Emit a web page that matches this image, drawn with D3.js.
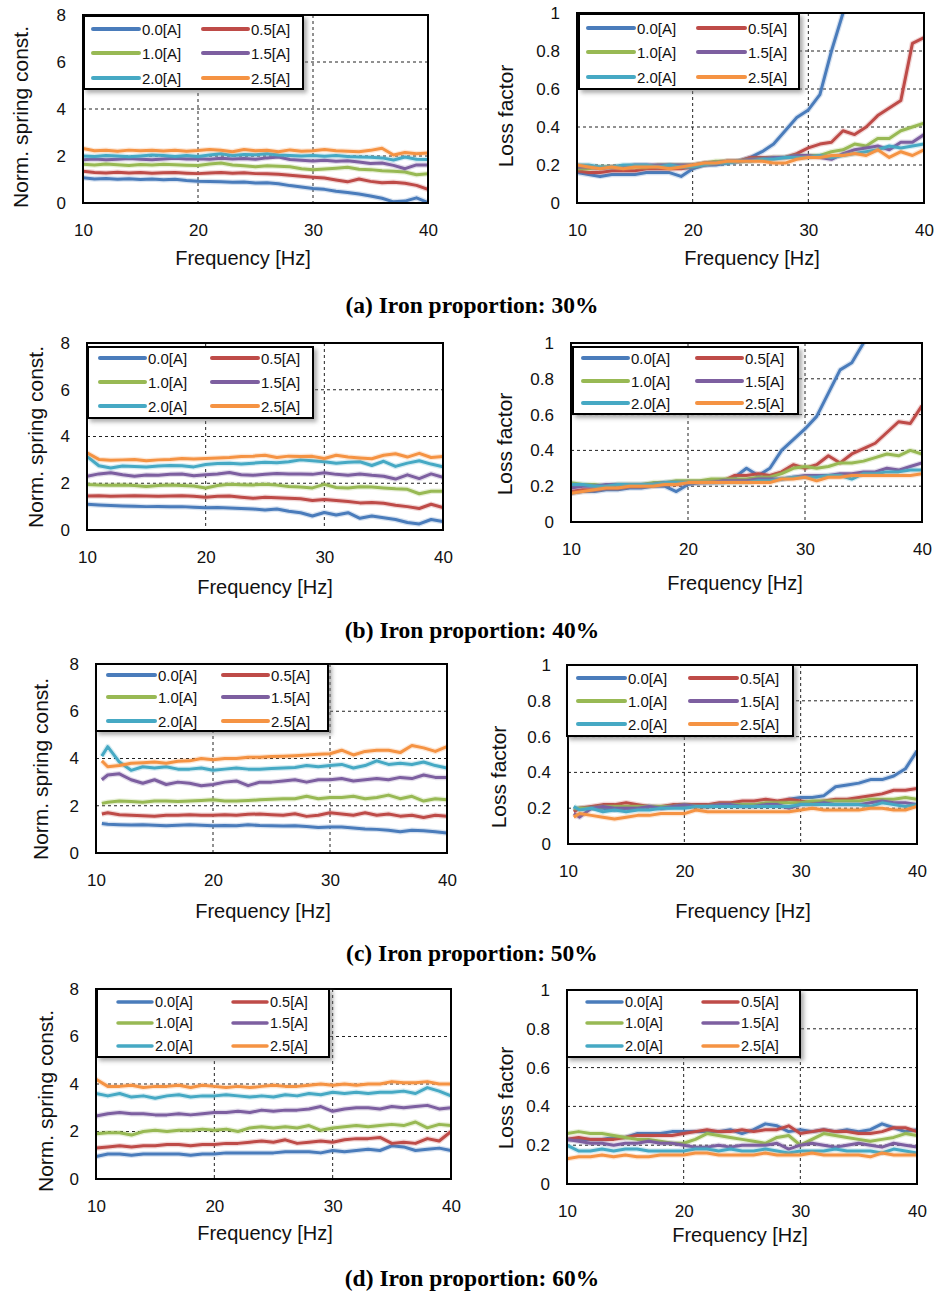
<!DOCTYPE html>
<html>
<head>
<meta charset="utf-8">
<script src="https://cdn.jsdelivr.net/npm/d3@7"></script>
<style>
body{margin:0;background:#fff;}
svg{display:block;font-family:"Liberation Sans",Arial,sans-serif;}
</style>
</head>
<body>
<svg id="chart"></svg>
<script>
// frequency axes (Hz)
const freq = [10,11,12,13,14,15,16,17,18,19,20,21,22,23,24,25,26,27,28,29,30,31,32,33,34,35,36,37,38,39,40];
const freqC = [10.5,11,12,13,14,15,16,17,18,19,20,21,22,23,24,25,26,27,28,29,30,31,32,33,34,35,36,37,38,39,40];
const currents = ["0.0[A]","0.5[A]","1.0[A]","1.5[A]","2.0[A]","2.5[A]"];
const freqTicks = [10,20,30,40];
const kTicks = [0,2,4,6,8];
const etaTicks = [0,0.2,0.4,0.6,0.8,1];
const captions = ["(a) Iron proportion: 30%","(b) Iron proportion: 40%","(c) Iron proportion: 50%","(d) Iron proportion: 60%"];

// normalised spring constant, one row per current 0.0 .. 2.5 A
const k30 = [
  [1.08,1.02,1.04,1.01,1.03,1.00,1.02,0.99,1.01,0.96,0.93,0.92,0.90,0.88,0.89,0.85,0.86,0.82,0.74,0.68,0.62,0.58,0.50,0.45,0.38,0.30,0.20,0.05,0.08,0.22,0.02],
  [1.35,1.30,1.28,1.31,1.28,1.30,1.27,1.29,1.30,1.27,1.25,1.28,1.30,1.27,1.29,1.25,1.24,1.22,1.18,1.14,1.10,1.06,0.98,0.90,1.02,0.92,0.86,0.88,0.84,0.75,0.58],
  [1.65,1.62,1.66,1.63,1.60,1.64,1.62,1.65,1.63,1.61,1.60,1.66,1.70,1.62,1.58,1.54,1.58,1.56,1.54,1.46,1.42,1.45,1.48,1.52,1.44,1.42,1.37,1.35,1.32,1.20,1.25],
  [1.84,1.87,1.84,1.86,1.89,1.86,1.84,1.87,1.90,1.87,1.88,1.86,1.90,1.87,1.89,1.86,1.92,1.96,1.85,1.82,1.79,1.82,1.78,1.80,1.74,1.68,1.70,1.60,1.46,1.62,1.62],
  [2.00,1.98,2.02,2.00,1.97,2.00,2.04,2.02,1.98,2.02,1.98,2.04,2.10,2.02,2.06,2.05,2.10,2.04,2.02,2.00,2.02,1.99,2.02,1.98,1.96,1.95,1.92,1.83,1.96,1.86,1.85],
  [2.32,2.22,2.24,2.20,2.25,2.22,2.24,2.21,2.24,2.20,2.23,2.28,2.24,2.18,2.28,2.22,2.24,2.18,2.26,2.20,2.22,2.28,2.22,2.20,2.18,2.24,2.33,2.04,2.15,2.10,2.13]
];
const k40 = [
  [1.10,1.07,1.05,1.03,1.02,1.00,1.01,0.99,1.00,0.97,0.95,0.96,0.94,0.92,0.90,0.86,0.90,0.80,0.74,0.60,0.75,0.64,0.74,0.50,0.60,0.52,0.45,0.32,0.26,0.45,0.36],
  [1.45,1.46,1.44,1.45,1.46,1.45,1.44,1.45,1.47,1.44,1.40,1.44,1.45,1.40,1.36,1.40,1.38,1.36,1.34,1.26,1.30,1.26,1.22,1.16,1.18,1.14,1.06,1.00,0.92,1.10,0.96],
  [1.95,1.92,1.91,1.92,1.90,1.86,1.90,1.92,1.90,1.88,1.80,1.90,1.96,1.94,1.93,1.96,1.92,1.86,1.84,1.80,1.95,1.82,1.80,1.85,1.84,1.80,1.76,1.74,1.55,1.66,1.66],
  [2.30,2.40,2.45,2.36,2.30,2.35,2.34,2.38,2.40,2.32,2.36,2.40,2.46,2.36,2.34,2.38,2.42,2.40,2.40,2.38,2.45,2.38,2.34,2.40,2.34,2.30,2.18,2.36,2.20,2.40,2.25],
  [3.15,2.75,2.65,2.74,2.72,2.70,2.74,2.76,2.75,2.70,2.80,2.84,2.86,2.82,2.86,2.90,2.88,2.92,3.00,2.96,2.92,2.86,2.90,2.92,2.76,2.94,2.72,2.86,2.96,2.82,2.70],
  [3.30,3.02,2.98,3.00,3.02,2.96,3.00,3.02,3.06,3.04,3.06,3.08,3.10,3.14,3.16,3.20,3.10,3.16,3.14,3.15,3.06,3.20,3.12,3.08,3.05,3.20,3.26,3.12,3.28,3.10,3.14]
];
const k50 = [
  [1.25,1.22,1.20,1.19,1.20,1.17,1.15,1.17,1.20,1.17,1.15,1.16,1.15,1.20,1.16,1.15,1.14,1.15,1.12,1.08,1.10,1.10,1.06,1.02,1.00,0.96,0.90,0.96,0.94,0.90,0.85],
  [1.65,1.70,1.62,1.60,1.58,1.56,1.60,1.60,1.62,1.60,1.60,1.62,1.60,1.64,1.65,1.62,1.60,1.66,1.55,1.60,1.70,1.65,1.60,1.70,1.60,1.65,1.56,1.60,1.50,1.60,1.55],
  [2.10,2.15,2.20,2.18,2.15,2.20,2.20,2.18,2.20,2.22,2.25,2.20,2.20,2.22,2.25,2.28,2.30,2.30,2.40,2.30,2.35,2.35,2.40,2.30,2.35,2.45,2.30,2.40,2.20,2.30,2.25],
  [3.10,3.30,3.35,3.10,2.95,3.10,2.90,3.00,2.95,2.85,2.90,3.00,3.05,2.85,3.00,3.00,3.05,3.10,3.00,3.10,3.10,3.15,3.05,3.10,3.15,3.10,3.20,3.15,3.30,3.20,3.20],
  [4.10,4.50,3.85,3.50,3.65,3.60,3.65,3.55,3.55,3.60,3.50,3.55,3.60,3.55,3.55,3.58,3.60,3.62,3.70,3.65,3.70,3.75,3.60,3.70,3.90,3.75,3.80,3.75,3.85,3.70,3.60],
  [3.90,3.65,3.70,3.80,3.82,3.85,3.80,3.88,3.90,4.00,3.95,4.00,4.00,4.05,4.05,4.08,4.10,4.12,4.15,4.18,4.20,4.35,4.15,4.30,4.35,4.35,4.25,4.55,4.45,4.30,4.50]
];
const k60 = [
  [0.95,1.05,1.05,1.00,1.05,1.05,1.05,1.05,1.00,1.05,1.05,1.10,1.10,1.10,1.10,1.10,1.15,1.15,1.15,1.10,1.20,1.15,1.20,1.25,1.20,1.40,1.35,1.20,1.25,1.30,1.20],
  [1.30,1.35,1.40,1.35,1.40,1.40,1.45,1.45,1.40,1.45,1.45,1.50,1.50,1.55,1.60,1.55,1.65,1.50,1.55,1.60,1.55,1.65,1.70,1.70,1.75,1.50,1.55,1.50,1.70,1.60,2.00],
  [1.90,1.95,1.95,1.85,2.00,2.05,2.00,2.05,2.05,2.10,2.05,2.10,2.00,2.15,2.20,2.15,2.20,2.15,2.25,2.05,2.15,2.20,2.25,2.20,2.25,2.30,2.25,2.40,2.15,2.30,2.25],
  [2.65,2.75,2.80,2.75,2.75,2.70,2.70,2.75,2.70,2.75,2.80,2.80,2.85,2.80,2.90,2.85,2.90,2.90,2.95,3.05,2.85,2.95,3.00,3.00,2.95,3.05,3.00,3.05,3.10,2.95,3.00],
  [3.60,3.50,3.60,3.45,3.50,3.40,3.50,3.55,3.45,3.50,3.50,3.55,3.50,3.45,3.50,3.45,3.55,3.50,3.60,3.55,3.65,3.60,3.65,3.60,3.65,3.65,3.70,3.60,3.85,3.70,3.50],
  [4.20,3.90,3.90,3.95,3.85,3.90,3.90,3.95,3.85,3.95,3.90,3.85,3.90,3.85,3.90,3.95,3.90,3.90,3.95,4.00,3.95,4.00,3.95,4.00,4.00,4.10,4.05,4.05,4.10,4.00,4.00]
];

// loss factor, one row per current 0.0 .. 2.5 A (null = off the chart)
const eta30 = [
  [0.16,0.15,0.14,0.15,0.15,0.15,0.16,0.16,0.16,0.14,0.18,0.20,0.20,0.21,0.22,0.24,0.27,0.31,0.38,0.45,0.49,0.57,0.80,1.00,null,null,null,null,null,null,null],
  [0.17,0.16,0.16,0.17,0.17,0.17,0.18,0.18,0.18,0.18,0.19,0.20,0.21,0.22,0.22,0.24,0.24,0.24,0.24,0.26,0.29,0.31,0.32,0.38,0.36,0.40,0.46,0.50,0.54,0.84,0.87],
  [0.18,0.18,0.19,0.19,0.19,0.19,0.19,0.20,0.20,0.20,0.20,0.21,0.22,0.22,0.22,0.23,0.23,0.24,0.24,0.25,0.25,0.25,0.27,0.28,0.31,0.30,0.34,0.34,0.38,0.40,0.42],
  [0.19,0.19,0.18,0.19,0.19,0.20,0.20,0.20,0.20,0.20,0.20,0.21,0.21,0.22,0.22,0.23,0.23,0.24,0.24,0.25,0.25,0.24,0.23,0.26,0.28,0.29,0.30,0.28,0.32,0.32,0.36],
  [0.20,0.20,0.19,0.19,0.20,0.20,0.20,0.19,0.20,0.19,0.19,0.20,0.21,0.21,0.22,0.22,0.23,0.23,0.24,0.24,0.24,0.25,0.24,0.25,0.26,0.27,0.28,0.30,0.29,0.30,0.31],
  [0.20,0.19,0.18,0.19,0.18,0.19,0.19,0.19,0.18,0.19,0.20,0.21,0.21,0.22,0.22,0.22,0.22,0.21,0.21,0.23,0.24,0.24,0.25,0.25,0.26,0.25,0.28,0.24,0.27,0.25,0.28]
];
const eta40 = [
  [0.16,0.17,0.17,0.18,0.18,0.19,0.19,0.20,0.20,0.17,0.21,0.22,0.22,0.22,0.25,0.30,0.26,0.30,0.40,0.46,0.52,0.59,0.72,0.85,0.89,1.00,null,null,null,null,null],
  [0.17,0.18,0.18,0.19,0.19,0.20,0.20,0.21,0.21,0.21,0.22,0.22,0.23,0.23,0.26,0.26,0.27,0.26,0.28,0.32,0.30,0.32,0.37,0.33,0.38,0.41,0.44,0.50,0.56,0.55,0.65],
  [0.22,0.21,0.21,0.20,0.21,0.21,0.21,0.22,0.22,0.23,0.23,0.23,0.24,0.24,0.24,0.24,0.25,0.25,0.27,0.30,0.31,0.30,0.31,0.33,0.33,0.34,0.36,0.38,0.37,0.40,0.38],
  [0.19,0.20,0.20,0.21,0.21,0.21,0.21,0.21,0.22,0.22,0.22,0.22,0.22,0.23,0.23,0.23,0.24,0.24,0.24,0.25,0.26,0.26,0.26,0.27,0.27,0.28,0.28,0.30,0.29,0.31,0.33],
  [0.21,0.21,0.20,0.20,0.21,0.21,0.21,0.21,0.22,0.22,0.22,0.22,0.22,0.22,0.22,0.22,0.23,0.23,0.24,0.25,0.25,0.25,0.26,0.26,0.24,0.27,0.27,0.28,0.28,0.29,0.29],
  [0.16,0.17,0.18,0.19,0.19,0.20,0.20,0.20,0.21,0.21,0.22,0.22,0.22,0.22,0.22,0.22,0.22,0.22,0.24,0.24,0.25,0.23,0.25,0.25,0.26,0.26,0.26,0.26,0.26,0.26,0.27]
];
const eta50 = [
  [0.19,0.20,0.20,0.20,0.19,0.20,0.20,0.21,0.20,0.21,0.21,0.21,0.21,0.22,0.22,0.22,0.22,0.22,0.22,0.25,0.26,0.26,0.27,0.32,0.33,0.34,0.36,0.36,0.38,0.42,0.52],
  [0.18,0.20,0.21,0.22,0.22,0.23,0.22,0.21,0.21,0.22,0.22,0.22,0.22,0.23,0.23,0.24,0.24,0.25,0.24,0.25,0.24,0.23,0.24,0.25,0.25,0.26,0.27,0.28,0.30,0.30,0.31],
  [0.20,0.20,0.20,0.21,0.21,0.21,0.21,0.21,0.21,0.21,0.22,0.21,0.21,0.22,0.22,0.22,0.22,0.23,0.23,0.23,0.23,0.24,0.24,0.24,0.24,0.24,0.25,0.25,0.25,0.26,0.25],
  [0.17,0.15,0.20,0.21,0.20,0.20,0.20,0.21,0.20,0.21,0.22,0.21,0.21,0.22,0.22,0.21,0.21,0.22,0.22,0.20,0.22,0.22,0.23,0.22,0.22,0.22,0.23,0.24,0.23,0.23,0.22],
  [0.21,0.19,0.20,0.18,0.19,0.18,0.19,0.19,0.20,0.20,0.20,0.21,0.21,0.21,0.21,0.21,0.21,0.21,0.21,0.21,0.22,0.22,0.22,0.22,0.22,0.22,0.21,0.23,0.22,0.21,0.22],
  [0.15,0.17,0.16,0.15,0.14,0.15,0.16,0.16,0.17,0.17,0.17,0.19,0.18,0.18,0.18,0.18,0.18,0.18,0.18,0.18,0.19,0.20,0.19,0.19,0.19,0.19,0.20,0.20,0.19,0.19,0.21]
];
const eta60 = [
  [0.23,0.23,0.23,0.23,0.24,0.24,0.26,0.26,0.26,0.27,0.27,0.27,0.27,0.27,0.28,0.26,0.28,0.31,0.30,0.27,0.28,0.27,0.28,0.27,0.28,0.27,0.28,0.31,0.29,0.27,0.28],
  [0.23,0.24,0.23,0.23,0.23,0.24,0.25,0.25,0.25,0.25,0.26,0.27,0.28,0.27,0.27,0.28,0.27,0.28,0.28,0.30,0.26,0.27,0.28,0.27,0.27,0.26,0.26,0.27,0.29,0.29,0.27],
  [0.26,0.27,0.26,0.26,0.25,0.24,0.23,0.23,0.22,0.21,0.21,0.23,0.26,0.25,0.24,0.23,0.22,0.21,0.24,0.25,0.20,0.23,0.26,0.25,0.24,0.23,0.22,0.23,0.24,0.26,0.25],
  [0.23,0.22,0.21,0.21,0.20,0.21,0.21,0.22,0.21,0.21,0.20,0.19,0.19,0.20,0.19,0.20,0.20,0.20,0.21,0.18,0.20,0.21,0.20,0.19,0.20,0.21,0.20,0.19,0.21,0.20,0.19],
  [0.20,0.17,0.17,0.18,0.17,0.18,0.18,0.17,0.17,0.17,0.17,0.18,0.18,0.17,0.18,0.17,0.17,0.18,0.17,0.16,0.17,0.17,0.17,0.18,0.17,0.17,0.17,0.16,0.18,0.17,0.16],
  [0.13,0.14,0.14,0.15,0.14,0.15,0.14,0.14,0.15,0.15,0.15,0.16,0.16,0.15,0.15,0.15,0.15,0.16,0.15,0.15,0.15,0.16,0.15,0.15,0.15,0.15,0.14,0.16,0.15,0.15,0.15]
];

const colors = ["#4a7cbb","#be4b48","#98b954","#7d5fa0","#46a9c4","#f59343"];

// layout of each panel: plot box [x0,x1,y0,y1], legend box, legend rows/columns, label centres
const panels = [
  {vals:k30, f:freq, ticks:kTicks, max:8, title:"Norm. spring const.", box:[83,428,15,203], leg:[84,303,16,89], rows:[29,53,78], cols:[[93,139],[203,248]], ylab:[20,117], xlab:[243,258]},
  {vals:eta30, f:freq, ticks:etaTicks, max:1, title:"Loss factor", box:[577,924,13,203], leg:[579,799,14,89], rows:[28,52,77], cols:[[588,634],[698,745]], ylab:[505,116], xlab:[752,258]},
  {vals:k40, f:freq, ticks:kTicks, max:8, title:"Norm. spring const.", box:[87,443,343,530], leg:[88,313,347,418], rows:[358,382,406], cols:[[100,145],[212,258]], ylab:[35,437], xlab:[265,587]},
  {vals:eta40, f:freq, ticks:etaTicks, max:1, title:"Loss factor", box:[571,922,343,522], leg:[573,798,347,414], rows:[358,381,403], cols:[[583,628],[697,742]], ylab:[504,444], xlab:[735,583]},
  {vals:k50, f:freqC, ticks:kTicks, max:8, title:"Norm. spring const.", box:[96,447,664,853], leg:[96,328,664,731], rows:[675,697,721], cols:[[108,155],[223,268]], ylab:[40,769], xlab:[263,911]},
  {vals:eta50, f:freqC, ticks:etaTicks, max:1, title:"Loss factor", box:[568,917,665,844], leg:[567,793,665,736], rows:[678,701,724], cols:[[578,625],[690,737]], ylab:[498,777], xlab:[743,911]},
  {vals:k60, f:freq, ticks:kTicks, max:8, title:"Norm. spring const.", box:[96,451,989,1179], leg:[97,329,989,1057], rows:[1002,1023,1046], cols:[[118,152],[233,267]], ylab:[45,1101], xlab:[265,1233]},
  {vals:eta60, f:freq, ticks:etaTicks, max:1, title:"Loss factor", box:[567,917,990,1184], leg:[567,800,990,1057], rows:[1002,1023,1046], cols:[[587,622],[703,738]], ylab:[505,1098], xlab:[740,1235]}
];
const captionY = [313,638,961,1286];

const svg = d3.select('#chart').attr('width',934).attr('height',1292);
svg.append('rect').attr('width',934).attr('height',1292).attr('fill','#fff');
const defs = svg.append('defs');
defs.append('filter').attr('id','shadow')
    .attr('x','-10%').attr('y','-10%').attr('width','130%').attr('height','140%')
  .append('feDropShadow')
    .attr('dx',3).attr('dy',3).attr('stdDeviation',2)
    .attr('flood-color','#777').attr('flood-opacity',0.6);

panels.forEach((p,i) => {
    const [x0,x1,y0,y1] = p.box;
    const x = d3.scaleLinear().domain([10,40]).range([x0,x1]);
    const y = d3.scaleLinear().domain([0,p.max]).range([y1,y0]);
    const g = svg.append('g');

    // dashed grid
    g.selectAll('.hgrid').data(p.ticks.slice(1,-1)).enter().append('line')
        .attr('x1',x0).attr('x2',x1)
        .attr('y1',d=>y(d)).attr('y2',d=>y(d))
        .attr('stroke','#222').attr('stroke-width',1).attr('stroke-dasharray','3,3');
    g.selectAll('.vgrid').data(freqTicks.slice(1,-1)).enter().append('line')
        .attr('x1',d=>x(d)).attr('x2',d=>x(d))
        .attr('y1',y0).attr('y2',y1)
        .attr('stroke','#222').attr('stroke-width',1).attr('stroke-dasharray','3,3');

    defs.append('clipPath').attr('id','clip'+i)
      .append('rect').attr('x',x0).attr('y',y0-2).attr('width',x1-x0).attr('height',y1-y0+2);

    const line = d3.line()
        .defined(d => d[1] != null)
        .x(d => x(d[0]))
        .y(d => y(d[1]));
    const lg = g.append('g').attr('clip-path',`url(#clip${i})`);
    p.vals.forEach((vals,j) => {
        const pts = p.f.map((fr,k) => [fr, vals[k]]);
        lg.append('path').datum(pts).attr('d',line)
            .attr('fill','none').attr('stroke',colors[j])
            .attr('stroke-width',5.5).attr('stroke-opacity',0.22)
            .attr('stroke-linejoin','round');
        lg.append('path').datum(pts).attr('d',line)
            .attr('fill','none').attr('stroke',colors[j])
            .attr('stroke-width',3).attr('stroke-linejoin','round');
    });

    g.append('rect')
        .attr('x',x0).attr('y',y0).attr('width',x1-x0).attr('height',y1-y0)
        .attr('fill','none').attr('stroke','#000').attr('stroke-width',2);

    const yAxis = d3.axisLeft(y).tickValues(p.ticks).tickSize(0).tickPadding(17).tickFormat(d => String(d));
    g.append('g').attr('transform',`translate(${x0},0)`).call(yAxis)
        .attr('font-size',17).attr('font-family',null)
        .call(a => a.select('.domain').remove())
        .selectAll('text').attr('fill','#111');

    const xAxis = d3.axisBottom(x).tickValues(freqTicks).tickSize(0).tickPadding(21);
    g.append('g').attr('transform',`translate(0,${y1})`).call(xAxis)
        .attr('font-size',17).attr('font-family',null)
        .call(a => a.select('.domain').remove())
        .selectAll('text').attr('fill','#111');

    g.append('text')
        .attr('x',p.xlab[0]).attr('y',p.xlab[1])
        .attr('text-anchor','middle').attr('dominant-baseline','central')
        .attr('font-size',20).attr('fill','#111')
        .text('Frequency [Hz]');
    g.append('text')
        .attr('transform',`translate(${p.ylab[0]},${p.ylab[1]}) rotate(-90)`)
        .attr('text-anchor','middle').attr('dominant-baseline','central')
        .attr('font-size',21).attr('fill','#111')
        .text(p.title);

    // legend
    const [lx0,lx1,ly0,ly1] = p.leg;
    const leg = g.append('g');
    leg.append('rect')
        .attr('x',lx0).attr('y',ly0).attr('width',lx1-lx0).attr('height',ly1-ly0)
        .attr('fill','#fff').attr('stroke','#000').attr('stroke-width',2)
        .attr('filter','url(#shadow)');
    const item = leg.selectAll('.item').data(currents).enter().append('g');
    item.append('line')
        .attr('x1',(d,j) => p.cols[j%2][0]).attr('x2',(d,j) => p.cols[j%2][1])
        .attr('y1',(d,j) => p.rows[Math.floor(j/2)]).attr('y2',(d,j) => p.rows[Math.floor(j/2)])
        .attr('stroke',(d,j) => colors[j]).attr('stroke-width',i >= 6 ? 3.5 : 4)
        .attr('stroke-linecap','round');
    item.append('text')
        .attr('x',(d,j) => p.cols[j%2][1] + 3)
        .attr('y',(d,j) => p.rows[Math.floor(j/2)])
        .attr('dominant-baseline','central')
        .attr('font-size',i >= 6 ? 14.5 : 15).attr('fill','#111')
        .text(d => d);
});

svg.selectAll('.caption').data(captions).enter().append('text')
    .attr('x',472).attr('y',(d,i) => captionY[i])
    .attr('text-anchor','middle')
    .attr('font-family','"Liberation Serif","Times New Roman",serif')
    .attr('font-weight','bold').attr('font-size',23.5)
    .text(d => d);
</script>
</body>
</html>
